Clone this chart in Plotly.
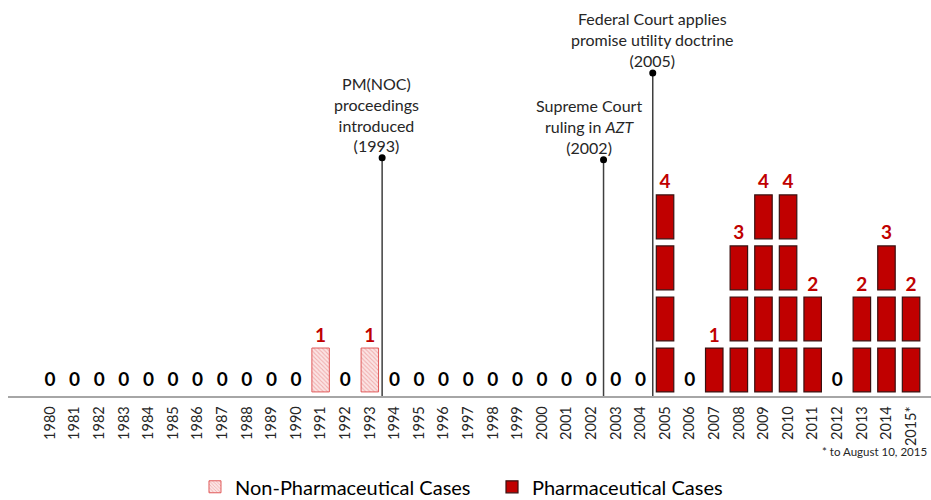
import plotly.graph_objects as go

# ---------------- data ----------------
years = ["1980", "1981", "1982", "1983", "1984", "1985", "1986", "1987", "1988",
         "1989", "1990", "1991", "1992", "1993", "1994", "1995", "1996", "1997",
         "1998", "1999", "2000", "2001", "2002", "2003", "2004", "2005", "2006",
         "2007", "2008", "2009", "2010", "2011", "2012", "2013", "2014", "2015"]
tick_labels = ["1980", "1981", "1982", "1983", "1984", "1985", "1986", "1987", "1988",
               "1989", "1990", "1991", "1992", "1993", "1994", "1995", "1996", "1997",
               "1998", "1999", "2000", "2001", "2002", "2003", "2004", "2005", "2006",
               "2007", "2008", "2009", "2010", "2011", "2012", "2013", "2014", "2015*"]
non_pharma = [0, 0, 0, 0, 0, 0, 0, 0, 0, 0, 0, 1, 0, 1, 0, 0, 0, 0,
              0, 0, 0, 0, 0, 0, 0, 0, 0, 0, 0, 0, 0, 0, 0, 0, 0, 0]
pharma = [0, 0, 0, 0, 0, 0, 0, 0, 0, 0, 0, 0, 0, 0, 0, 0, 0, 0,
          0, 0, 0, 0, 0, 0, 0, 4, 0, 1, 3, 4, 4, 2, 0, 2, 3, 2]

event_years = ["1993", "2002", "2005"]
event_side = [0.5, 0.5, -0.5]          # stem sits after / before the year's slot
event_texts = ["PM(NOC)<br>proceedings<br>introduced<br>(1993)",
               "Supreme Court<br>ruling in <i>AZT</i><br>(2002)",
               "Federal Court applies<br>promise utility doctrine<br>(2005)"]
event_heights = [4.67, 4.63, 6.33]
event_xshift = [-6, -15, 0]

# ---------------- style ----------------
FONT = "Lato"
RED = "#C00000"
GAP = 0.08
BLOCK = 0.86
BAR_W = 0.71

fig = go.Figure()

# Non-pharmaceutical unit blocks (hatched)
for k in range(1, max(non_pharma) + 1):
    xs = [y for y, v in zip(years, non_pharma) if v >= k]
    fig.add_trace(go.Bar(
        x=xs, y=[BLOCK] * len(xs), base=[k - 1 + GAP] * len(xs), width=BAR_W,
        name="Non-Pharmaceutical Cases", legendgroup="np", showlegend=(k == 1),
        marker=dict(color="#fbe0e0",
                    pattern=dict(shape="\\", fgcolor="#e57a7a", bgcolor="#fbe4e4",
                                 size=3, solidity=0.35),
                    line=dict(color="#e05a5a", width=1)),
        hoverinfo="skip"))

# Pharmaceutical unit blocks
for k in range(1, max(pharma) + 1):
    xs = [y for y, v in zip(years, pharma) if v >= k]
    fig.add_trace(go.Bar(
        x=xs, y=[BLOCK] * len(xs), base=[k - 1 + GAP] * len(xs), width=BAR_W,
        name="Pharmaceutical Cases", legendgroup="p", showlegend=(k == 1),
        marker=dict(color=RED, line=dict(color="#3a1010", width=1.2)),
        hoverinfo="skip"))

# value labels
totals = [a + b for a, b in zip(non_pharma, pharma)]
label_y = [t + 0.16 if t > 0 else 0.28 for t in totals]
label_col = [RED if t > 0 else "#000000" for t in totals]
fig.add_trace(go.Scatter(
    x=years, y=label_y, text=[str(t) for t in totals], mode="text",
    textposition="middle center",
    textfont=dict(family=FONT, size=19, color=label_col, weight="bold"),
    showlegend=False, hoverinfo="skip", cliponaxis=False))

# event stems, dots and labels
shapes = []
annotations = []
for ey, side, txt, h, dx in zip(event_years, event_side, event_texts,
                                event_heights, event_xshift):
    xi = years.index(ey) + side
    shapes.append(dict(type="line", xref="x", yref="y", x0=xi, x1=xi, y0=0, y1=h,
                       line=dict(color="#3f3f3f", width=1.5)))
    shapes.append(dict(type="circle", xref="x", yref="y", xsizemode="pixel",
                       ysizemode="pixel", xanchor=xi, yanchor=h,
                       x0=-3.5, x1=3.5, y0=-3.5, y1=3.5,
                       fillcolor="#000000", line=dict(color="#000000", width=0)))
    annotations.append(dict(x=xi, y=h, xref="x", yref="y", text=txt, showarrow=False,
                            xanchor="center", yanchor="bottom", yshift=1, xshift=dx,
                            align="center",
                            font=dict(family=FONT, size=16, color="#262626")))

annotations.append(dict(x=0.998, y=-0.139, xref="paper", yref="paper",
                        text="* to August 10, 2015", showarrow=False,
                        xanchor="right", yanchor="middle",
                        font=dict(family=FONT, size=11.5, color="#262626")))

fig.update_layout(
    width=931, height=500,
    margin=dict(l=8, r=0, t=0, b=104, autoexpand=False),
    paper_bgcolor="white", plot_bgcolor="white",
    barmode="overlay",
    font=dict(family=FONT, color="#262626"),
    xaxis=dict(type="category", categoryorder="array", categoryarray=years,
               tickmode="array", tickvals=years, ticktext=tick_labels,
               tickangle=-90, tickfont=dict(family=FONT, size=14.5, color="#262626"),
               ticklabelstandoff=3, automargin=False,
               range=[-1.707, 35.81], showline=True, linecolor="#a6a6a6",
               linewidth=1.5, showgrid=False, zeroline=False, ticks="",
               fixedrange=True),
    yaxis=dict(range=[0, 7.76], visible=False, fixedrange=True, automargin=False),
    legend=dict(orientation="h", x=0.2026, y=-0.18, xanchor="left", yanchor="top",
                font=dict(family=FONT, size=20, color="#000000"),
                bgcolor="rgba(0,0,0,0)", entrywidth=252, entrywidthmode="pixels",
                itemclick=False, itemdoubleclick=False),
    shapes=shapes, annotations=annotations,
)

fig.write_html("out.html",
               config={"displayModeBar": False, "staticPlot": True},
               post_script="document.body.style.margin='0px';"
                           "document.body.style.overflow='hidden';")
